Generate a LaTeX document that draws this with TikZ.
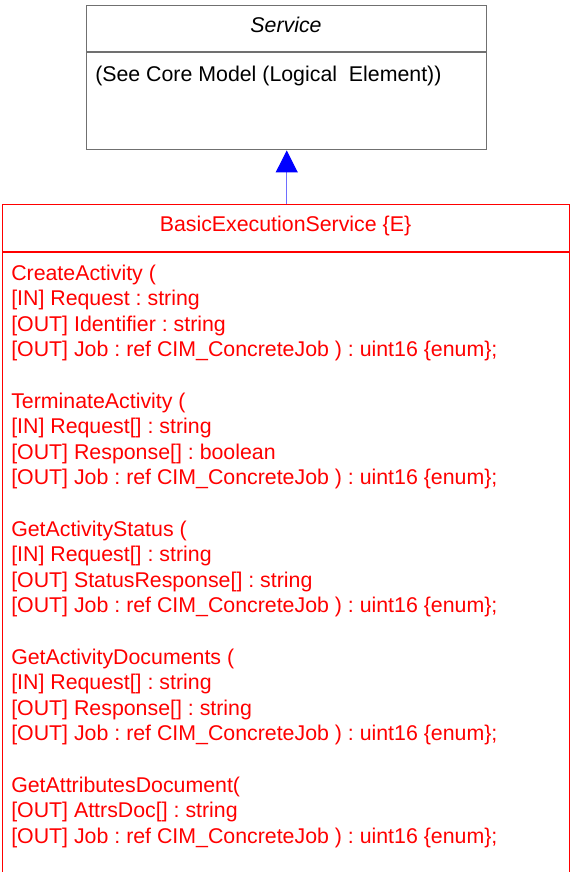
\documentclass[tikz,border=0pt]{standalone}
\usepackage{fontspec}
\setmainfont{Liberation Sans}
\usetikzlibrary{arrows.meta}
\frenchspacing
\definecolor{svcgray}{RGB}{112,112,112}
\definecolor{linkblue}{RGB}{110,110,255}
\tikzset{
  svcbox/.style={draw=svcgray, line width=1.1pt, inner sep=0pt, anchor=north west},
  besbox/.style={draw=red, line width=0.8pt, inner sep=0pt, anchor=north west},
  svcdiv/.style={draw=svcgray, line width=1pt},
  besdiv/.style={draw=red, line width=0.8pt},
  svctext/.style={inner sep=0pt, text=black, font=\fontsize{16}{19.2}\selectfont\frenchspacing},
  optext/.style={inner sep=0pt, anchor=base west, text=red, font=\fontsize{16}{19.2}\selectfont\frenchspacing},
  conn/.style={draw=linkblue, line width=0.8pt, -{Triangle[width=16.5pt, length=16.5pt, color=blue, fill=blue]}}
}
\newcommand{\opline}[3]{\node[optext] (#1) at (11,{280+25.6*#2}) {#3};}
\begin{document}
\begin{tikzpicture}[x=0.75pt, y=-0.75pt]
\useasboundingbox (0,0) rectangle (573,872);
% Service class
\node[svcbox, minimum width=300pt, minimum height=108pt] (svc) at (86,5) {};
\draw[svcdiv] (86,52) -- (486,52);
\node[svctext, anchor=base, font=\fontsize{16}{19.2}\selectfont\itshape] (svctitle) at (286,32) {Service};
\node[svctext, anchor=base west] (svcbody) at (95,81) {(See Core Model (Logical\ \ Element))};
% BasicExecutionService class
\node[besbox, minimum width=425.25pt, minimum height=507pt] (bes) at (2,204) {};
\draw[besdiv] (2,252) -- (569,252);
\node[optext, anchor=base] (bestitle) at (285.5,231) {BasicExecutionService \{E\}};
\opline{l0}{0}{CreateActivity (}
\opline{l1}{1}{[IN] Request : string}
\opline{l2}{2}{[OUT] Identifier : string}
\opline{l3}{3}{[OUT] Job : ref CIM\_ConcreteJob ) : uint16 \{enum\};}
\opline{l5}{5}{TerminateActivity (}
\opline{l6}{6}{[IN] Request[] : string}
\opline{l7}{7}{[OUT] Response[] : boolean}
\opline{l8}{8}{[OUT] Job : ref CIM\_ConcreteJob ) : uint16 \{enum\};}
\opline{l10}{10}{GetActivityStatus (}
\opline{l11}{11}{[IN] Request[] : string}
\opline{l12}{12}{[OUT] StatusResponse[] : string}
\opline{l13}{13}{[OUT] Job : ref CIM\_ConcreteJob ) : uint16 \{enum\};}
\opline{l15}{15}{GetActivityDocuments (}
\opline{l16}{16}{[IN] Request[] : string}
\opline{l17}{17}{[OUT] Response[] : string}
\opline{l18}{18}{[OUT] Job : ref CIM\_ConcreteJob ) : uint16 \{enum\};}
\opline{l20}{20}{GetAttributesDocument(}
\opline{l21}{21}{[OUT] AttrsDoc[] : string}
\opline{l22}{22}{[OUT] Job : ref CIM\_ConcreteJob ) : uint16 \{enum\};}
% inheritance connector
\draw[conn] (svc.south |- bes.north) -- (svc.south);
\end{tikzpicture}
\end{document}
